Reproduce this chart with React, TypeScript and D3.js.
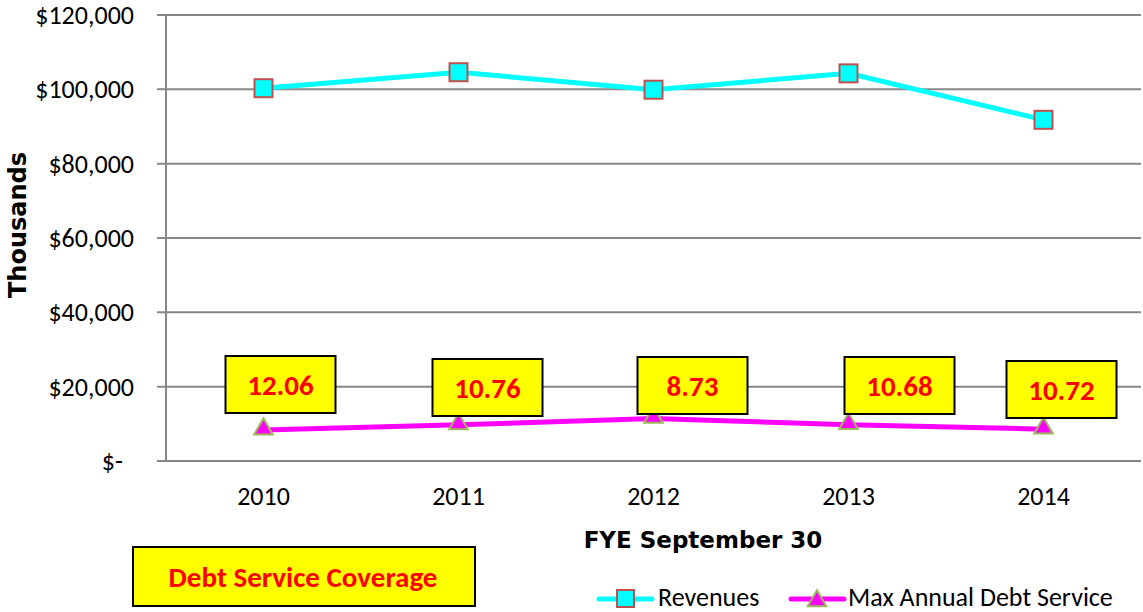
import React from "react";
import * as d3 from "d3";

const years = ["2010", "2011", "2012", "2013", "2014"];
const revenues = [100300, 104600, 99900, 104300, 91800];
const debtService = [8320, 9720, 11440, 9770, 8560];
const coverage = ["12.06", "10.76", "8.73", "10.68", "10.72"];
const yTicks = [0, 20000, 40000, 60000, 80000, 100000, 120000];

// layout of callout boxes (offset from point x, box top y)
const boxDx = [17, 29, 39, 51, 18];
const boxTop = [356, 359, 357, 357, 361];

const W = 1143;
const H = 612;
const left = 166;
const right = 1141;
const top = 15;
const bottom = 461;
const calibri = "Carlito, 'Open Sans', 'Noto Sans', sans-serif";
const verdana = "'DejaVu Sans', Verdana, sans-serif";

export default function App() {
  const x = d3.scalePoint<string>().domain(years).range([left, right]).padding(0.5);
  const y = d3.scaleLinear().domain([0, 120000]).range([bottom, top]);
  const line = d3.line<number>().x((_, i) => x(years[i])!).y((d) => y(d));
  const fmt = (v: number) => (v === 0 ? "$-" : "$" + d3.format(",")(v));
  const tri = d3.symbol().type(d3.symbolTriangle).size(150);

  return (
    <svg width={W} height={H} style={{ position: "absolute", left: 0, top: 0 }} fontFamily={calibri}>
      <rect width={W} height={H} fill="#fff" />
      {yTicks.map((t) => (
        <g key={t}>
          <line x1={157} x2={right} y1={y(t)} y2={y(t)} stroke="#868686" strokeWidth={2} />
          <text x={t === 0 ? 123 : 134} y={y(t)} dy="0.35em" textAnchor="end" fontSize={26} fill="#000">
            {fmt(t)}
          </text>
        </g>
      ))}
      <line x1={left} x2={left} y1={top} y2={bottom} stroke="#868686" strokeWidth={2} />
      {years.map((yr) => (
        <text key={yr} x={x(yr)} y={496} textAnchor="middle" fontSize={26} dy="0.35em">
          {yr}
        </text>
      ))}
      <text transform="translate(18,225) rotate(-90)" dy="0.35em" textAnchor="middle" fontSize={24} fontWeight="bold" fontFamily={verdana}>
        Thousands
      </text>
      <text x={703} y={540} dy="0.35em" textAnchor="middle" fontSize={23} fontWeight="bold" fontFamily={verdana}>
        FYE September 30
      </text>

      <path d={line(revenues)!} fill="none" stroke="#00FFFF" strokeWidth={5} />
      <path d={line(debtService)!} fill="none" stroke="#FF00FF" strokeWidth={5} />
      {revenues.map((v, i) => (
        <rect key={i} x={x(years[i])! - 9} y={y(v) - 9} width={18} height={18} fill="#00FFFF" stroke="#C0504D" strokeWidth={2} />
      ))}
      {debtService.map((v, i) => (
        <path key={i} d={tri()!} transform={`translate(${x(years[i])},${y(v) - 1})`} fill="#FF00FF" stroke="#9BBB59" strokeWidth={2} />
      ))}

      {coverage.map((c, i) => {
        const cx = x(years[i])! + boxDx[i];
        return (
          <g key={c}>
            <rect x={cx - 55} y={boxTop[i]} width={110} height={57} fill="#FFFF00" stroke="#000" strokeWidth={2} />
            <text x={cx} y={boxTop[i] + 29} dy="0.35em" textAnchor="middle" fontSize={29} fontWeight="bold" fill="#FF0000">
              {c}
            </text>
          </g>
        );
      })}

      <rect x={133} y={547} width={342} height={59} fill="#FFFF00" stroke="#000" strokeWidth={2} />
      <text x={303} y={577} dy="0.35em" textAnchor="middle" fontSize={29} fontWeight="bold" fill="#FF0000">
        Debt Service Coverage
      </text>

      <line x1={599} x2={652} y1={599} y2={599} stroke="#00FFFF" strokeWidth={5} strokeLinecap="round" />
      <rect x={617} y={590} width={17} height={17} fill="#00FFFF" stroke="#C0504D" strokeWidth={2} />
      <text x={658} y={597} dy="0.35em" fontSize={26}>Revenues</text>
      <line x1={791} x2={844} y1={599} y2={599} stroke="#FF00FF" strokeWidth={5} strokeLinecap="round" />
      <path d={tri()!} transform="translate(817,601)" fill="#FF00FF" stroke="#9BBB59" strokeWidth={2} />
      <text x={848} y={597} dy="0.35em" fontSize={26}>Max Annual Debt Service</text>
    </svg>
  );
}
